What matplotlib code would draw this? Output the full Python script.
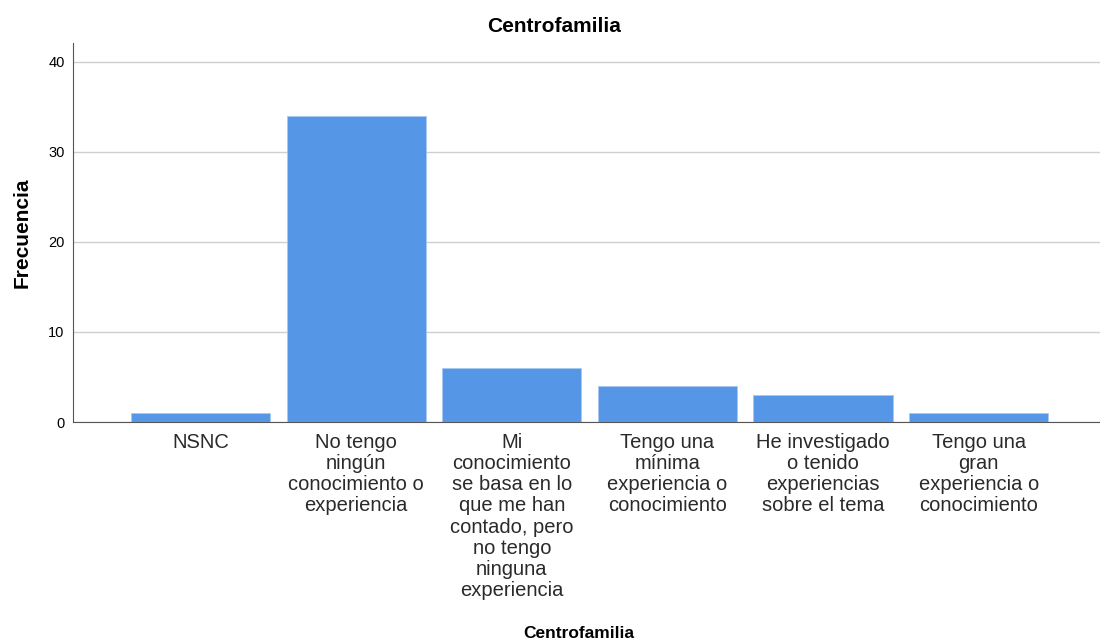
import numpy as np
import matplotlib.pyplot as plt

plt.rcParams['font.family'] = ['Liberation Sans', 'DejaVu Sans']

# categories and counts
categorias = [
    "NSNC",
    "No tengo\nningún\nconocimiento o\nexperiencia",
    "Mi\nconocimiento\nse basa en lo\nque me han\ncontado, pero\nno tengo\nninguna\nexperiencia",
    "Tengo una\nmínima\nexperiencia o\nconocimiento",
    "He investigado\no tenido\nexperiencias\nsobre el tema",
    "Tengo una\ngran\nexperiencia o\nconocimiento",
]
frecuencia = [1, 34, 6, 4, 3, 1]
yticks = [0, 10, 20, 30, 40]

fig = plt.figure(figsize=(11, 6.44), dpi=100)
ax = fig.add_axes([0.0664, 0.3447, 0.9336, 0.5885])

x = np.arange(len(categorias))
ax.bar(x, frecuencia, width=0.895, color='#5596e6', edgecolor='#a9c8f0',
       linewidth=0.6, zorder=3)

ax.set_xlim(-0.82, 5.78)
ax.set_ylim(0, 42.1)
ax.set_yticks(yticks)
ax.grid(axis='y', color='#cfcfcf', linewidth=1.0, zorder=0)
ax.set_xticks(x)
ax.set_xticklabels(categorias, fontsize=14.5, color='#2a2a2a', linespacing=1.14)
ax.tick_params(axis='x', length=0, pad=8)
ax.tick_params(axis='y', length=0, labelsize=10.5, pad=6)

for s in ['top', 'right']:
    ax.spines[s].set_visible(False)
ax.spines['left'].set_color('#555555')
ax.spines['bottom'].set_color('#555555')

fig.text(554 / 1100, 1 - 27 / 644, 'Centrofamilia', fontsize=15,
         fontweight='bold', ha='center', va='center')
ax.set_ylabel('Frecuencia', fontsize=15, fontweight='bold', labelpad=12)
fig.text(579 / 1100, 0.004, 'Centrofamilia', fontsize=12.5, fontweight='bold',
         ha='center', va='bottom')

fig.savefig('out.png', dpi=100)
